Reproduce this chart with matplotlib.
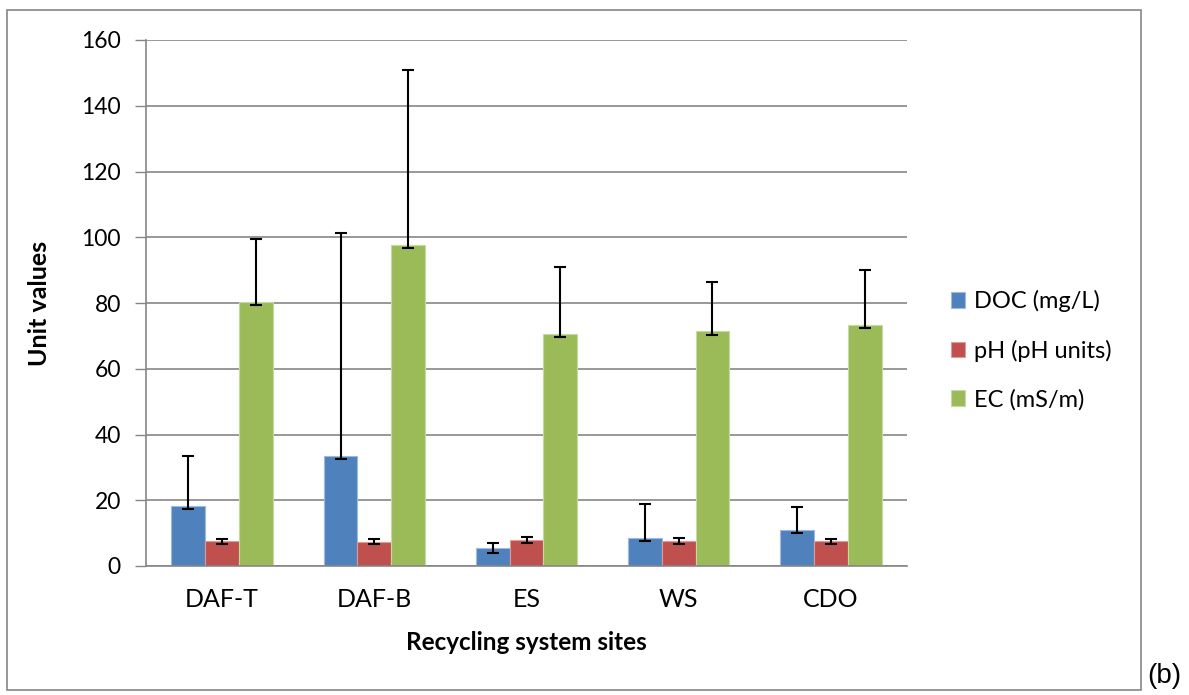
import matplotlib
matplotlib.use("Agg")
import matplotlib.pyplot as plt
import numpy as np
from matplotlib.patches import Rectangle

plt.rcParams['font.family'] = ['Lato', 'DejaVu Sans']

sites = ["DAF-T", "DAF-B", "ES", "WS", "CDO"]
series_names = ["DOC (mg/L)", "pH (pH units)", "EC (mS/m)"]
doc = [18.1, 33.5, 5.4, 8.6, 10.9]
doc_err_low = [0.9, 1.0, 1.3, 1.0, 1.0]
doc_err_high = [15.4, 67.8, 1.7, 10.4, 7.0]
ph = [7.5, 7.4, 8.0, 7.6, 7.5]
ph_err = [0.75, 0.75, 0.9, 0.8, 0.75]
ec = [80.3, 97.5, 70.5, 71.4, 73.4]
ec_err_low = [0.9, 0.9, 0.9, 1.1, 1.0]
ec_err_high = [19.1, 53.5, 20.5, 15.0, 16.7]
y_ticks = [0, 20, 40, 60, 80, 100, 120, 140, 160]

colors = ["#4F81BD", "#C0504D", "#9BBB59"]
edges = ["#9DB9DD", "#DC9C9A", "#C5D9A3"]

W, H = 1189, 695
fig = plt.figure(figsize=(W / 100, H / 100), dpi=100)
ax = fig.add_axes([146 / W, (H - 566) / H, (907 - 146) / W, (566 - 40) / H])

x = np.arange(len(sites))
bw = 0.222
vals = [doc, ph, ec]
errs = [[doc_err_low, doc_err_high], [ph_err, ph_err], [ec_err_low, ec_err_high]]
for i, (v, e) in enumerate(zip(vals, errs)):
    pos = x + (i - 1) * bw
    ax.bar(pos, v, width=bw, color=colors[i], edgecolor=edges[i], linewidth=0.8,
           label=series_names[i], zorder=2)
    ax.errorbar(pos, v, yerr=e, fmt='none', ecolor='black', elinewidth=1.5,
                capsize=4.5, capthick=1.5, zorder=3)

ax.set_xlim(-0.5, len(sites) - 0.5)
ax.set_ylim(0, 160)
ax.set_yticks(y_ticks)
ax.set_xticks(x)
ax.set_xticklabels(sites, fontsize=18)
ax.tick_params(axis='y', labelsize=16.5, length=8, color='#868686', width=1, pad=10)
ax.tick_params(axis='x', length=0, pad=16)
ax.yaxis.grid(True, color='#868686', linewidth=1.2, zorder=0)
ax.set_axisbelow(True)
for s in ['top', 'right']:
    ax.spines[s].set_visible(False)
for s in ['left', 'bottom']:
    ax.spines[s].set_color('#868686')
    ax.spines[s].set_linewidth(1.2)

ax.set_ylabel("Unit values", fontsize=18, fontweight='bold', labelpad=22)
ax.set_xlabel("Recycling system sites", fontsize=17.5, fontweight='bold', labelpad=14)

leg = ax.legend(loc='center left', bbox_to_anchor=(1.045, 0.41), frameon=False,
                fontsize=17, handlelength=0.62, handleheight=0.62, handletextpad=0.35,
                labelspacing=1.15, borderaxespad=0)

fig.patches.append(Rectangle((7 / W, (H - 690) / H), (1141 - 7) / W, (690 - 10) / H,
                             transform=fig.transFigure, fill=False,
                             edgecolor='#868686', linewidth=1.2))
fig.text(1147 / W, 12 / H, "(b)", fontsize=20, family='Liberation Sans', va='baseline')

fig.savefig("out.png", dpi=100)
